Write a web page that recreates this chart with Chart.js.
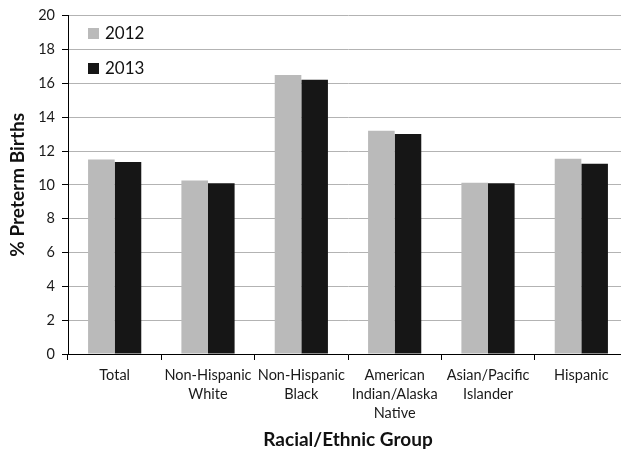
<!DOCTYPE html>
<html>
<head>
<meta charset="utf-8">
<script src="https://cdn.jsdelivr.net/npm/chart.js@4/dist/chart.umd.min.js"></script>
<style>
  html, body { margin: 0; padding: 0; background: #fff; overflow: hidden; }
  #wrap { width: 640px; height: 454px; }
</style>
</head>
<body>
<div id="wrap"><canvas id="pretermChart" width="640" height="454"></canvas></div>
<script>
const groups = [
  'Total',
  ['Non-Hispanic', 'White'],
  ['Non-Hispanic', 'Black'],
  ['American', 'Indian/Alaska', 'Native'],
  ['Asian/Pacific', 'Islander'],
  'Hispanic'
];
const years = ['2012', '2013'];
const rate2012 = [11.5, 10.25, 16.5, 13.2, 10.12, 11.55];
const rate2013 = [11.35, 10.1, 16.22, 13.0, 10.1, 11.25];
const yTicks = [0, 2, 4, 6, 8, 10, 12, 14, 16, 18, 20];

const FONT = 'Lato, "Open Sans", sans-serif';

// legend sits inside the plot, top-left, one entry per row
const boxLegend = {
  id: 'boxLegend',
  afterDraw(chart) {
    const ctx = chart.ctx;
    ctx.save();
    ctx.font = '17px ' + FONT;
    ctx.textBaseline = 'middle';
    chart.data.datasets.forEach((ds, i) => {
      const y = 28 + i * 35;
      ctx.fillStyle = ds.backgroundColor;
      ctx.fillRect(88, y, 11, 11);
      ctx.fillStyle = '#111';
      ctx.fillText(ds.label, 105, y + 6);
    });
    ctx.restore();
  }
};

new Chart(document.getElementById('pretermChart'), {
  type: 'bar',
  data: {
    labels: groups,
    datasets: [
      { label: years[0], data: rate2012, backgroundColor: '#bababa' },
      { label: years[1], data: rate2013, backgroundColor: '#161616' }
    ]
  },
  options: {
    responsive: false,
    animation: false,
    layout: { padding: { top: 15, right: 12, bottom: 0, left: 0 } },
    datasets: {
      bar: { barPercentage: 1, categoryPercentage: 0.57 }
    },
    plugins: {
      legend: { display: false },
      tooltip: { enabled: false }
    },
    scales: {
      x: {
        afterFit(scale) { scale.height = 100; },
        grid: {
          display: true,
          drawOnChartArea: false,
          tickLength: 6,
          tickColor: '#000',
          offset: true
        },
        border: { color: '#000', width: 1 },
        ticks: {
          color: '#1a1a1a',
          padding: 6,
          maxRotation: 0,
          autoSkip: false,
          font: { family: FONT, size: 14.5, lineHeight: 1.31 }
        },
        title: {
          display: true,
          text: 'Racial/Ethnic Group',
          color: '#111',
          padding: { top: 0, bottom: 3 },
          font: { family: FONT, size: 19, weight: 'bold', lineHeight: 1.2 }
        }
      },
      y: {
        min: 0,
        max: 20,
        afterFit(scale) { scale.width = 68; },
        afterBuildTicks(scale) { scale.ticks = yTicks.map(v => ({ value: v })); },
        grid: {
          color: '#b3b3b3',
          lineWidth: 1,
          tickLength: 6,
          tickColor: '#000'
        },
        border: { color: '#000', width: 1 },
        ticks: {
          color: '#1a1a1a',
          padding: 7,
          font: { family: FONT, size: 14.5 }
        },
        title: {
          display: true,
          text: '% Preterm Births',
          color: '#111',
          padding: { top: 6, bottom: 0 },
          font: { family: FONT, size: 19, weight: 'bold', lineHeight: 1.2 }
        }
      }
    }
  },
  plugins: [boxLegend]
});
</script>
</body>
</html>
